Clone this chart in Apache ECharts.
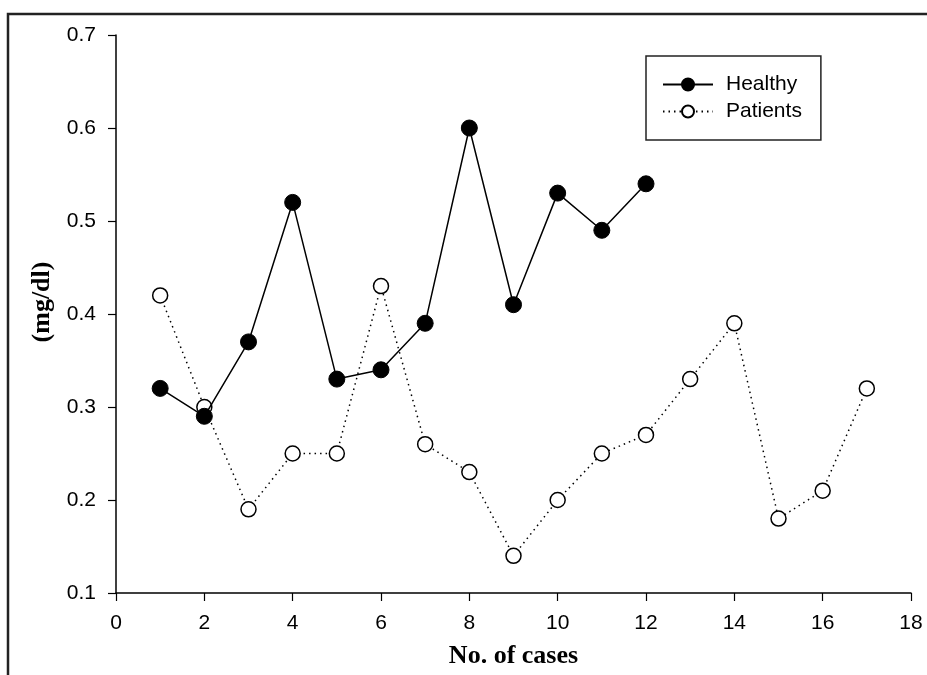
<!DOCTYPE html>
<html><head><meta charset="utf-8">
<script src="https://cdn.jsdelivr.net/npm/echarts@6/dist/echarts.min.js"></script>
<style>html,body{margin:0;padding:0;background:#fff}#c{width:927px;height:675px}</style>
</head><body><div id="c"></div>
<script>
const healthyX = [1,2,3,4,5,6,7,8,9,10,11,12];
const healthyY = [0.32,0.29,0.37,0.52,0.33,0.34,0.39,0.60,0.41,0.53,0.49,0.54];
const patientsX = [1,2,3,4,5,6,7,8,9,10,11,12,13,14,15,16,17];
const patientsY = [0.42,0.30,0.19,0.25,0.25,0.43,0.26,0.23,0.14,0.20,0.25,0.27,0.33,0.39,0.18,0.21,0.32];
const seriesNames = ['Healthy','Patients'];
const xTitle = 'No. of cases';
const yTitle = '(mg/dl)';

const chart = echarts.init(document.getElementById('c'), null, {renderer:'canvas'});
const pair = (xs, ys) => xs.map((x,i)=>[x, ys[i]]);
const lblFont = {fontFamily:'Liberation Sans, Arial, sans-serif', fontSize:21, color:'#000'};
const titleFont = {fontFamily:'Liberation Serif, Times New Roman, serif', fontWeight:'bold', fontSize:26, color:'#000'};
chart.setOption({
  animation:false,
  graphic:[{type:'rect', shape:{x:8,y:14,width:960,height:700}, style:{fill:null, stroke:'#222', lineWidth:2.5}, z:-1}],
  grid:{left:116, top:35, right:16, bottom:82},
  legend:{
    orient:'vertical', left:646, top:56,
    padding:[18,19,18,16], itemGap:6, itemWidth:50, itemHeight:15,
    borderColor:'#222', borderWidth:1.5,
    textStyle:{fontFamily:'Liberation Sans, Arial, sans-serif', fontSize:21, color:'#000', padding:[0,0,0,8]},
    data:seriesNames
  },
  xAxis:{
    type:'value', min:0, max:18, interval:2,
    name:xTitle, nameLocation:'middle', nameGap:50,
    nameTextStyle:titleFont,
    axisLine:{lineStyle:{color:'#000', width:1.5}},
    axisTick:{length:8, lineStyle:{color:'#000', width:1.2}},
    axisLabel:Object.assign({margin:20}, lblFont),
    splitLine:{show:false}
  },
  yAxis:{
    type:'value', min:0.1, max:0.7, interval:0.1,
    name:yTitle, nameLocation:'middle', nameGap:61, nameRotate:90,
    nameTextStyle:Object.assign({padding:[0,0,0,24]}, titleFont),
    axisLine:{lineStyle:{color:'#000', width:1.5}},
    axisTick:{length:8, lineStyle:{color:'#000', width:1.2}},
    axisLabel:Object.assign({margin:20, formatter:v=>v.toFixed(1)}, lblFont),
    splitLine:{show:false}
  },
  series:[
    {name:seriesNames[0], type:'line', data:pair(healthyX, healthyY),
     symbol:'circle', symbolSize:16,
     lineStyle:{color:'#000', width:1.5},
     itemStyle:{color:'#000', borderColor:'#000', borderWidth:1}, z:3},
    {name:seriesNames[1], type:'line', data:pair(patientsX, patientsY),
     symbol:'circle', symbolSize:15,
     lineStyle:{color:'#000', width:1.5, type:[1.5,4]},
     itemStyle:{color:'#fff', borderColor:'#000', borderWidth:1.5}, z:2}
  ]
});
</script></body></html>
